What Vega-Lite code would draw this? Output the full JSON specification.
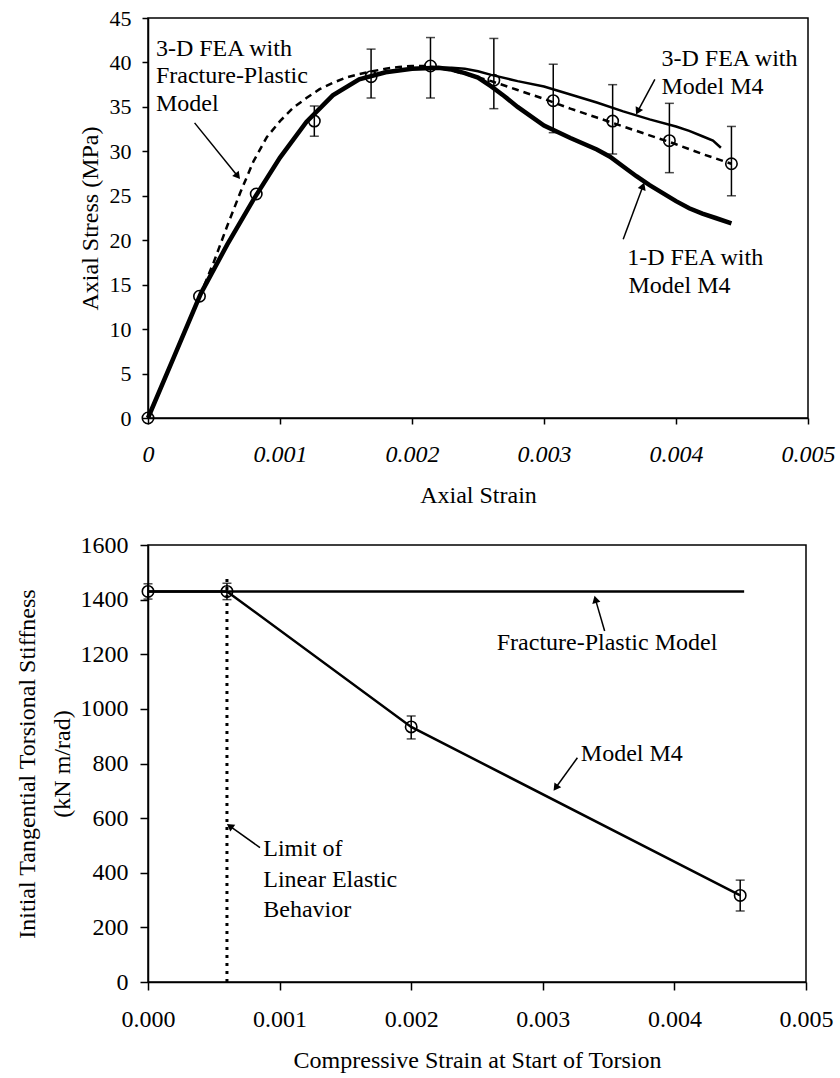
{
  "$schema": "https://vega.github.io/schema/vega-lite/v6.json",
  "background": "white",
  "padding": {"left": 14, "top": 6, "right": 5, "bottom": 5},
  "bounds": "flush",
  "spacing": 127,
  "datasets": {
    "c1": [
      {"s":"FP","x":0,"y":0},{"s":"FP","x":0.0002,"y":7.0},{"s":"FP","x":0.0004,"y":14.0},{"s":"FP","x":0.0005,"y":17.6},{"s":"FP","x":0.0006,"y":21.6},{"s":"FP","x":0.0007,"y":25.4},{"s":"FP","x":0.0008,"y":28.9},{"s":"FP","x":0.0009,"y":31.6},{"s":"FP","x":0.001,"y":33.4},{"s":"FP","x":0.0011,"y":34.9},{"s":"FP","x":0.0012,"y":36.0},{"s":"FP","x":0.0013,"y":37.0},{"s":"FP","x":0.0014,"y":37.7},{"s":"FP","x":0.0015,"y":38.3},{"s":"FP","x":0.0016,"y":38.7},{"s":"FP","x":0.0017,"y":39.0},{"s":"FP","x":0.0018,"y":39.3},{"s":"FP","x":0.0019,"y":39.5},{"s":"FP","x":0.002,"y":39.6},{"s":"FP","x":0.0021,"y":39.6},{"s":"FP","x":0.0022,"y":39.4},{"s":"FP","x":0.0023,"y":39.1},{"s":"FP","x":0.0024,"y":38.7},{"s":"FP","x":0.0025,"y":38.3},{"s":"FP","x":0.0026,"y":37.9},{"s":"FP","x":0.0028,"y":36.9},{"s":"FP","x":0.003,"y":35.9},{"s":"FP","x":0.0032,"y":34.8},{"s":"FP","x":0.0034,"y":33.8},{"s":"FP","x":0.0036,"y":32.8},{"s":"FP","x":0.0038,"y":31.8},{"s":"FP","x":0.004,"y":30.8},{"s":"FP","x":0.0042,"y":29.7},{"s":"FP","x":0.00442,"y":28.6},
      {"s":"M3","x":0,"y":0},{"s":"M3","x":0.0002,"y":7.0},{"s":"M3","x":0.0004,"y":14.0},{"s":"M3","x":0.0006,"y":19.5},{"s":"M3","x":0.0008,"y":24.6},{"s":"M3","x":0.001,"y":29.3},{"s":"M3","x":0.0012,"y":33.3},{"s":"M3","x":0.0014,"y":36.3},{"s":"M3","x":0.0016,"y":38.1},{"s":"M3","x":0.0018,"y":38.9},{"s":"M3","x":0.002,"y":39.3},{"s":"M3","x":0.0022,"y":39.4},{"s":"M3","x":0.0023,"y":39.4},{"s":"M3","x":0.0024,"y":39.3},{"s":"M3","x":0.0025,"y":39.0},{"s":"M3","x":0.0026,"y":38.6},{"s":"M3","x":0.0028,"y":37.9},{"s":"M3","x":0.003,"y":37.3},{"s":"M3","x":0.0032,"y":36.4},{"s":"M3","x":0.0034,"y":35.5},{"s":"M3","x":0.0036,"y":34.5},{"s":"M3","x":0.0038,"y":33.6},{"s":"M3","x":0.004,"y":32.8},{"s":"M3","x":0.0041,"y":32.3},{"s":"M3","x":0.0042,"y":31.7},{"s":"M3","x":0.00428,"y":31.2},{"s":"M3","x":0.00434,"y":30.4},
      {"s":"M1","x":0,"y":0},{"s":"M1","x":0.0002,"y":7.0},{"s":"M1","x":0.0004,"y":14.0},{"s":"M1","x":0.0006,"y":19.5},{"s":"M1","x":0.0008,"y":24.6},{"s":"M1","x":0.001,"y":29.3},{"s":"M1","x":0.0012,"y":33.3},{"s":"M1","x":0.0014,"y":36.3},{"s":"M1","x":0.0016,"y":38.1},{"s":"M1","x":0.0018,"y":38.9},{"s":"M1","x":0.002,"y":39.3},{"s":"M1","x":0.0022,"y":39.4},{"s":"M1","x":0.0023,"y":39.2},{"s":"M1","x":0.0024,"y":38.8},{"s":"M1","x":0.0025,"y":38.3},{"s":"M1","x":0.0026,"y":37.3},{"s":"M1","x":0.0027,"y":36.2},{"s":"M1","x":0.0028,"y":35.0},{"s":"M1","x":0.003,"y":32.9},{"s":"M1","x":0.0032,"y":31.5},{"s":"M1","x":0.0034,"y":30.2},{"s":"M1","x":0.0035,"y":29.4},{"s":"M1","x":0.0036,"y":28.3},{"s":"M1","x":0.0037,"y":27.2},{"s":"M1","x":0.0038,"y":26.2},{"s":"M1","x":0.004,"y":24.4},{"s":"M1","x":0.0041,"y":23.6},{"s":"M1","x":0.0042,"y":23.0},{"s":"M1","x":0.0043,"y":22.5},{"s":"M1","x":0.00442,"y":21.9}
    ],
    "e1": [
      {"x":0,"y":0},{"x":0.00039,"y":13.7},{"x":0.00082,"y":25.2},
      {"x":0.00126,"y":33.4,"lo":31.7,"hi":35.1},{"x":0.00169,"y":38.4,"lo":36.0,"hi":41.5},{"x":0.00214,"y":39.6,"lo":36.0,"hi":42.8},
      {"x":0.00262,"y":38.0,"lo":34.8,"hi":42.7},{"x":0.00307,"y":35.7,"lo":32.1,"hi":39.8},{"x":0.00352,"y":33.4,"lo":29.7,"hi":37.5},
      {"x":0.00395,"y":31.2,"lo":27.6,"hi":35.4},{"x":0.00442,"y":28.6,"lo":25.0,"hi":32.8}
    ],
    "t1": [
      {"t":"3-D FEA with","x":0.00006,"y":41.5},{"t":"Fracture-Plastic","x":0.00006,"y":38.5},{"t":"Model","x":0.00006,"y":35.3},
      {"t":"3-D FEA with","x":0.00389,"y":40.4},{"t":"Model M4","x":0.00389,"y":37.2},
      {"t":"1-D FEA with","x":0.00363,"y":18.0},{"t":"Model M4","x":0.00364,"y":14.8}
    ],
    "a1": [
      {"id":"a","x":0.000353,"y":33.2,"x2":0.00068,"y2":27.2},
      {"id":"b","x":0.00384,"y":38.1,"x2":0.00371,"y2":34.5},
      {"id":"c","x":0.0036,"y":20.1,"x2":0.00375,"y2":26.1}
    ],
    "c2": [
      {"s":"FP","x":0,"y":1430},{"s":"FP","x":0.00453,"y":1430},
      {"s":"M4","x":0,"y":1430},{"s":"M4","x":0.0006,"y":1430},{"s":"M4","x":0.002,"y":934},{"s":"M4","x":0.0045,"y":317},
      {"s":"LIM","x":0.0006,"y":0},{"s":"LIM","x":0.0006,"y":1490}
    ],
    "e2": [
      {"x":0,"y":1430,"lo":1402,"hi":1458},{"x":0.0006,"y":1430,"lo":1400,"hi":1460},
      {"x":0.002,"y":934,"lo":890,"hi":974},{"x":0.0045,"y":317,"lo":260,"hi":373}
    ],
    "t2": [
      {"t":"Fracture-Plastic Model","x":0.00265,"y":1242},
      {"t":"Model M4","x":0.003289,"y":836},
      {"t":"Limit of","x":0.000876,"y":487},{"t":"Linear Elastic","x":0.000876,"y":375},{"t":"Behavior","x":0.000876,"y":262}
    ],
    "a2": [
      {"id":"a","x":0.00347,"y":1285,"x2":0.0034,"y2":1401},
      {"id":"b","x":0.003263,"y":821,"x2":0.003098,"y2":711},
      {"id":"c","x":0.000851,"y":492,"x2":0.000622,"y2":571}
    ]
  },
  "vconcat": [
    {
      "width": 660,
      "height": 400,
      "layer": [
        {
          "data": {"name": "c1"},
          "transform": [{"filter": "datum.s == 'FP'"}],
          "mark": {"type": "line", "color": "black", "strokeWidth": 2.5, "strokeDash": [7, 5]},
          "encoding": {
            "x": {"field": "x", "type": "quantitative", "scale": {"domain": [0, 0.005], "nice": false, "zero": false},
              "axis": {"values": [0, 0.001, 0.002, 0.003, 0.004, 0.005], "labelExpr": "datum.value == 0 ? '0' : format(datum.value, '.3f')",
                "labelFontStyle": "italic", "labelFontSize": 24, "tickSize": 6, "labelPadding": 18,
                "title": "Axial Strain", "titleFontSize": 24, "titlePadding": 17}},
            "y": {"field": "y", "type": "quantitative", "scale": {"domain": [0, 45], "nice": false},
              "axis": {"values": [0, 5, 10, 15, 20, 25, 30, 35, 40, 45], "labelFontSize": 22, "tickSize": 6, "labelPadding": 11,
                "title": "Axial Stress (MPa)", "titleFontSize": 24, "titlePadding": 7}}
          }
        },
        {
          "data": {"name": "c1"},
          "transform": [{"filter": "datum.s == 'M3'"}],
          "mark": {"type": "line", "color": "black", "strokeWidth": 2.5},
          "encoding": {"x": {"field": "x", "type": "quantitative"}, "y": {"field": "y", "type": "quantitative"}}
        },
        {
          "data": {"name": "c1"},
          "transform": [{"filter": "datum.s == 'M1'"}],
          "mark": {"type": "line", "color": "black", "strokeWidth": 4.5},
          "encoding": {"x": {"field": "x", "type": "quantitative"}, "y": {"field": "y", "type": "quantitative"}}
        },
        {
          "data": {"name": "e1"},
          "transform": [{"filter": "isValid(datum.lo)"}],
          "mark": {"type": "rule", "color": "black", "strokeWidth": 1.5},
          "encoding": {"x": {"field": "x", "type": "quantitative"}, "y": {"field": "lo", "type": "quantitative"}, "y2": {"field": "hi"}}
        },
        {
          "data": {"name": "e1"},
          "transform": [{"filter": "isValid(datum.lo)"}],
          "mark": {"type": "tick", "orient": "horizontal", "color": "black", "size": 9, "thickness": 1.5},
          "encoding": {"x": {"field": "x", "type": "quantitative"}, "y": {"field": "lo", "type": "quantitative"}}
        },
        {
          "data": {"name": "e1"},
          "transform": [{"filter": "isValid(datum.lo)"}],
          "mark": {"type": "tick", "orient": "horizontal", "color": "black", "size": 9, "thickness": 1.5},
          "encoding": {"x": {"field": "x", "type": "quantitative"}, "y": {"field": "hi", "type": "quantitative"}}
        },
        {
          "data": {"name": "e1"},
          "mark": {"type": "point", "shape": "circle", "filled": false, "stroke": "black", "strokeWidth": 1.6, "size": 130, "opacity": 1},
          "encoding": {"x": {"field": "x", "type": "quantitative"}, "y": {"field": "y", "type": "quantitative"}}
        },
        {
          "data": {"name": "t1"},
          "mark": {"type": "text", "align": "left", "baseline": "middle", "font": "Liberation Serif", "fontSize": 24, "color": "black"},
          "encoding": {"x": {"field": "x", "type": "quantitative"}, "y": {"field": "y", "type": "quantitative"}, "text": {"field": "t"}}
        },
        {
          "data": {"name": "a1"},
          "mark": {"type": "rule", "color": "black", "strokeWidth": 1.5},
          "encoding": {"x": {"field": "x", "type": "quantitative"}, "y": {"field": "y", "type": "quantitative"}, "x2": {"field": "x2"}, "y2": {"field": "y2"}}
        },
        {
          "data": {"name": "a1"},
          "transform": [{"filter": "datum.id == 'a'"}],
          "mark": {"type": "point", "shape": "triangle-up", "filled": true, "color": "black", "size": 70, "angle": 141, "opacity": 1},
          "encoding": {"x": {"field": "x2", "type": "quantitative"}, "y": {"field": "y2", "type": "quantitative"}}
        },
        {
          "data": {"name": "a1"},
          "transform": [{"filter": "datum.id == 'b'"}],
          "mark": {"type": "point", "shape": "triangle-up", "filled": true, "color": "black", "size": 70, "angle": 207, "opacity": 1},
          "encoding": {"x": {"field": "x2", "type": "quantitative"}, "y": {"field": "y2", "type": "quantitative"}}
        },
        {
          "data": {"name": "a1"},
          "transform": [{"filter": "datum.id == 'c'"}],
          "mark": {"type": "point", "shape": "triangle-up", "filled": true, "color": "black", "size": 70, "angle": 21, "opacity": 1},
          "encoding": {"x": {"field": "x2", "type": "quantitative"}, "y": {"field": "y2", "type": "quantitative"}}
        }
      ]
    },
    {
      "width": 658,
      "height": 437,
      "layer": [
        {
          "data": {"name": "c2"},
          "transform": [{"filter": "datum.s == 'FP'"}],
          "mark": {"type": "line", "color": "black", "strokeWidth": 2.5},
          "encoding": {
            "x": {"field": "x", "type": "quantitative", "scale": {"domain": [0, 0.005], "nice": false, "zero": false},
              "axis": {"values": [0, 0.001, 0.002, 0.003, 0.004, 0.005], "format": ".3f",
                "labelFontSize": 24, "tickSize": 8, "labelPadding": 17,
                "title": "Compressive Strain at Start of Torsion", "titleFontSize": 24, "titlePadding": 17}},
            "y": {"field": "y", "type": "quantitative", "scale": {"domain": [0, 1600], "nice": false},
              "axis": {"values": [0, 200, 400, 600, 800, 1000, 1200, 1400, 1600], "format": "d", "labelFontSize": 24, "tickSize": 8, "labelPadding": 12,
                "title": ["Initial Tangential Torsional Stiffness", "(kN m/rad)"], "titleFontSize": 24, "titleLineHeight": 35, "titlePadding": 6}}
          }
        },
        {
          "data": {"name": "c2"},
          "transform": [{"filter": "datum.s == 'M4'"}],
          "mark": {"type": "line", "color": "black", "strokeWidth": 2.5},
          "encoding": {"x": {"field": "x", "type": "quantitative"}, "y": {"field": "y", "type": "quantitative"}}
        },
        {
          "data": {"name": "c2"},
          "transform": [{"filter": "datum.s == 'LIM'"}],
          "mark": {"type": "line", "color": "black", "strokeWidth": 3, "strokeDash": [3, 5]},
          "encoding": {"x": {"field": "x", "type": "quantitative"}, "y": {"field": "y", "type": "quantitative"}}
        },
        {
          "data": {"name": "e2"},
          "mark": {"type": "rule", "color": "black", "strokeWidth": 1.5},
          "encoding": {"x": {"field": "x", "type": "quantitative"}, "y": {"field": "lo", "type": "quantitative"}, "y2": {"field": "hi"}}
        },
        {
          "data": {"name": "e2"},
          "mark": {"type": "tick", "orient": "horizontal", "color": "black", "size": 9, "thickness": 1.5},
          "encoding": {"x": {"field": "x", "type": "quantitative"}, "y": {"field": "lo", "type": "quantitative"}}
        },
        {
          "data": {"name": "e2"},
          "mark": {"type": "tick", "orient": "horizontal", "color": "black", "size": 9, "thickness": 1.5},
          "encoding": {"x": {"field": "x", "type": "quantitative"}, "y": {"field": "hi", "type": "quantitative"}}
        },
        {
          "data": {"name": "e2"},
          "mark": {"type": "point", "shape": "circle", "filled": false, "stroke": "black", "strokeWidth": 1.6, "size": 130, "opacity": 1},
          "encoding": {"x": {"field": "x", "type": "quantitative"}, "y": {"field": "y", "type": "quantitative"}}
        },
        {
          "data": {"name": "t2"},
          "mark": {"type": "text", "align": "left", "baseline": "middle", "font": "Liberation Serif", "fontSize": 24, "color": "black"},
          "encoding": {"x": {"field": "x", "type": "quantitative"}, "y": {"field": "y", "type": "quantitative"}, "text": {"field": "t"}}
        },
        {
          "data": {"name": "a2"},
          "mark": {"type": "rule", "color": "black", "strokeWidth": 1.5},
          "encoding": {"x": {"field": "x", "type": "quantitative"}, "y": {"field": "y", "type": "quantitative"}, "x2": {"field": "x2"}, "y2": {"field": "y2"}}
        },
        {
          "data": {"name": "a2"},
          "transform": [{"filter": "datum.id == 'a'"}],
          "mark": {"type": "point", "shape": "triangle-up", "filled": true, "color": "black", "size": 70, "angle": 345, "opacity": 1},
          "encoding": {"x": {"field": "x2", "type": "quantitative"}, "y": {"field": "y2", "type": "quantitative"}}
        },
        {
          "data": {"name": "a2"},
          "transform": [{"filter": "datum.id == 'b'"}],
          "mark": {"type": "point", "shape": "triangle-up", "filled": true, "color": "black", "size": 70, "angle": 216, "opacity": 1},
          "encoding": {"x": {"field": "x2", "type": "quantitative"}, "y": {"field": "y2", "type": "quantitative"}}
        },
        {
          "data": {"name": "a2"},
          "transform": [{"filter": "datum.id == 'c'"}],
          "mark": {"type": "point", "shape": "triangle-up", "filled": true, "color": "black", "size": 70, "angle": 306, "opacity": 1},
          "encoding": {"x": {"field": "x2", "type": "quantitative"}, "y": {"field": "y2", "type": "quantitative"}}
        }
      ]
    }
  ],
  "config": {
    "view": {"stroke": "black", "strokeWidth": 1.5},
    "axis": {"grid": false, "domainColor": "black", "domainWidth": 1.5, "tickColor": "black", "tickWidth": 1.5,
      "labelColor": "black", "titleColor": "black", "labelFont": "Liberation Serif", "titleFont": "Liberation Serif",
      "titleFontWeight": "normal", "labelFlush": false, "labelOverlap": false}
  }
}
